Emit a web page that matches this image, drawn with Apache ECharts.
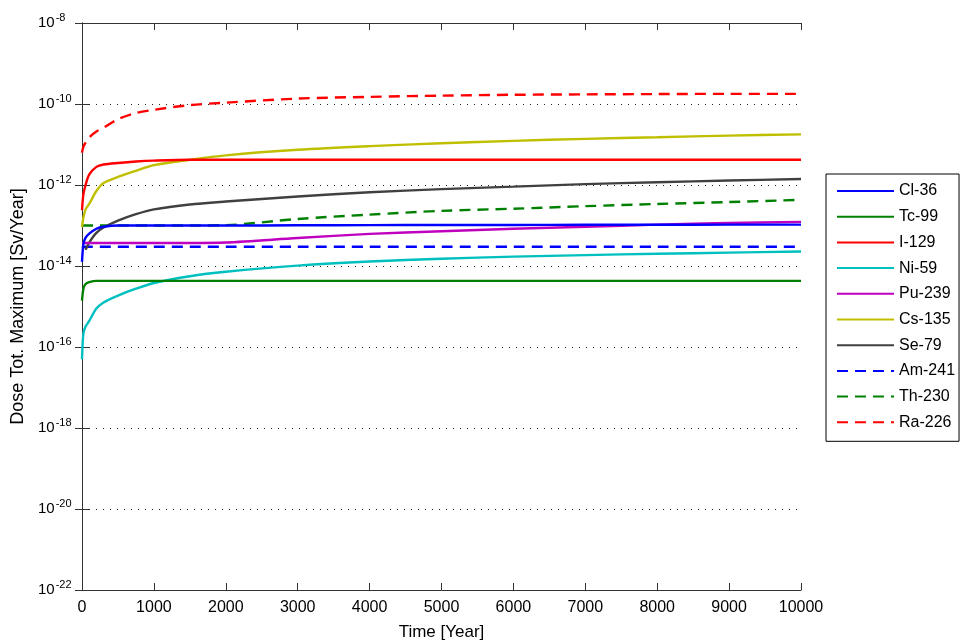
<!DOCTYPE html>
<html>
<head>
<meta charset="utf-8">
<script src="https://cdn.jsdelivr.net/npm/echarts@6/dist/echarts.min.js"></script>
<style>
  html, body { margin: 0; padding: 0; background: #fff; }
  #chart { width: 967px; height: 642px; }
</style>
</head>
<body>
<div id="chart"></div>
<script>
// 时间点 (年)
var years = [0, 20, 50, 100, 200, 300, 500, 750, 1000, 1500, 2000, 3000, 4000, 5000, 6000, 7000, 8000, 9000, 10000];

// 各核素剂量 [Sv/Year]
var cl36 = [1.26e-14, 3.5e-14, 5.0e-14, 6.3e-14, 8.3e-14, 9.3e-14, 1.0e-13, 1.0e-13, 1.0e-13, 1.0e-13, 1.0e-13, 1.01e-13, 1.02e-13, 1.03e-13, 1.03e-13, 1.04e-13, 1.04e-13, 1.05e-13, 1.05e-13];
var tc99 = [1.4e-15, 2.8e-15, 3.6e-15, 4.0e-15, 4.3e-15, 4.3e-15, 4.3e-15, 4.3e-15, 4.3e-15, 4.3e-15, 4.3e-15, 4.3e-15, 4.3e-15, 4.3e-15, 4.3e-15, 4.3e-15, 4.3e-15, 4.3e-15, 4.3e-15];
var i129 = [2.4e-13, 6.0e-13, 1.0e-12, 1.8e-12, 2.8e-12, 3.2e-12, 3.5e-12, 3.8e-12, 4.0e-12, 4.2e-12, 4.2e-12, 4.2e-12, 4.2e-12, 4.2e-12, 4.2e-12, 4.2e-12, 4.2e-12, 4.2e-12, 4.2e-12];
var ni59 = [5.0e-17, 2.2e-16, 3.2e-16, 4.4e-16, 8.9e-16, 1.26e-15, 1.86e-15, 2.75e-15, 3.8e-15, 5.6e-15, 7.2e-15, 1.02e-14, 1.29e-14, 1.51e-14, 1.70e-14, 1.86e-14, 2.0e-14, 2.14e-14, 2.29e-14];
var pu239 = [3.7e-14, 3.7e-14, 3.7e-14, 3.7e-14, 3.7e-14, 3.7e-14, 3.7e-14, 3.7e-14, 3.7e-14, 3.7e-14, 3.8e-14, 4.9e-14, 6.2e-14, 7.2e-14, 8.3e-14, 9.3e-14, 1.05e-13, 1.15e-13, 1.23e-13];
var cs135 = [9.1e-14, 1.6e-13, 2.5e-13, 3.4e-13, 7.1e-13, 1.12e-12, 1.58e-12, 2.24e-12, 3.1e-12, 4.2e-12, 5.4e-12, 7.4e-12, 9.1e-12, 1.07e-11, 1.23e-11, 1.38e-11, 1.51e-11, 1.66e-11, 1.78e-11];
var se79 = [null, null, 2.5e-14, 3.8e-14, 6.6e-14, 8.9e-14, 1.32e-13, 1.9e-13, 2.5e-13, 3.3e-13, 3.9e-13, 5.2e-13, 6.6e-13, 7.9e-13, 9.1e-13, 1.05e-12, 1.17e-12, 1.29e-12, 1.41e-12];
var am241 = [2.8e-14, 2.9e-14, 3.0e-14, 3.0e-14, 3.0e-14, 3.0e-14, 3.0e-14, 3.0e-14, 3.0e-14, 3.0e-14, 3.0e-14, 3.0e-14, 3.0e-14, 3.0e-14, 3.0e-14, 3.0e-14, 3.0e-14, 3.0e-14, 3.0e-14];
var th230 = [1.0e-13, 1.0e-13, 1.0e-13, 1.0e-13, 1.0e-13, 1.0e-13, 1.0e-13, 1.0e-13, 1.0e-13, 1.0e-13, 1.02e-13, 1.45e-13, 1.86e-13, 2.3e-13, 2.6e-13, 3.0e-13, 3.4e-13, 3.8e-13, 4.3e-13];
var ra226 = [6.3e-12, 8.9e-12, 1.12e-11, 1.5e-11, 2.1e-11, 2.6e-11, 4.2e-11, 6.0e-11, 7.2e-11, 9.4e-11, 1.08e-10, 1.36e-10, 1.50e-10, 1.61e-10, 1.69e-10, 1.73e-10, 1.76e-10, 1.78e-10, 1.78e-10];

var names = ['Cl-36', 'Tc-99', 'I-129', 'Ni-59', 'Pu-239', 'Cs-135', 'Se-79', 'Am-241', 'Th-230', 'Ra-226'];
var values = [cl36, tc99, i129, ni59, pu239, cs135, se79, am241, th230, ra226];
var colors = ['#0000ff', '#008000', '#ff0000', '#00bfbf', '#bf00bf', '#bfbf00', '#404040', '#0000ff', '#008000', '#ff0000'];
var dashed = [false, false, false, false, false, false, false, true, true, true];

// y 轴刻度: 10 的指数
var yMinExp = -22, yMaxExp = -8, yStep = 2;

var fontFam = 'Liberation Sans, Arial, sans-serif';

// 对数坐标: 数据取 log10 后交给数值轴
function toPairs(arr) {
	var out = [];
	for (var i = 0; i < years.length; i++) {
		if (arr[i] != null) out.push([years[i], Math.log(arr[i]) / Math.LN10]);
	}
	return out;
}

var series = names.map(function(n, i) {
	return {
		name: n,
		type: 'line',
		symbol: 'none',
		showSymbol: false,
		smooth: 0.3,
		xAxisIndex: 0,
		yAxisIndex: 0,
		data: toPairs(values[i]),
		lineStyle: {
			color: colors[i],
			width: 2.4,
			type: dashed[i] ? [11, 7] : 'solid'
		},
		itemStyle: { color: colors[i] },
		z: 10 - i
	};
});

var tickStyle = { inside: true, length: 7, lineStyle: { color: '#333' } };
var axisLineStyle = { show: true, lineStyle: { color: '#333' } };

var chart = echarts.init(document.getElementById('chart'));

chart.setOption({
	animation: false,
	backgroundColor: '#fff',
	textStyle: { fontFamily: fontFam },
	grid: {
		left: 82, right: 166, top: 23, bottom: 52,
		outerBoundsMode: 'none',
		containLabel: false
	},
	legend: {
		orient: 'vertical',
		left: 826,
		top: 174,
		data: names,
		itemWidth: 57,
		itemHeight: 14,
		itemGap: 9.7,
		padding: [9, 4, 11, 10],
		borderColor: '#000',
		borderWidth: 1,
		backgroundColor: '#fff',
		itemStyle: { opacity: 0 },
		textStyle: { fontSize: 16, color: '#000', fontFamily: fontFam }
	},
	xAxis: [
		{
			type: 'value',
			min: 0,
			max: 10000,
			interval: 1000,
			name: 'Time [Year]',
			nameLocation: 'middle',
			nameGap: 34,
			nameTextStyle: { fontSize: 17, color: '#000' },
			axisLine: axisLineStyle,
			axisTick: tickStyle,
			axisLabel: {
				fontSize: 16, color: '#000', margin: 10,
				formatter: function(v) { return String(v); }
			},
			splitLine: { show: false }
		},
		{
			type: 'value',
			position: 'top',
			min: 0,
			max: 10000,
			interval: 1000,
			axisLine: axisLineStyle,
			axisTick: tickStyle,
			axisLabel: { show: false },
			splitLine: { show: false }
		}
	],
	yAxis: [
		{
			type: 'value',
			min: yMinExp,
			max: yMaxExp,
			interval: yStep,
			name: 'Dose Tot. Maximum [Sv/Year]',
			nameLocation: 'middle',
			nameGap: 55,
			nameRotate: 90,
			nameTextStyle: { fontSize: 18, color: '#000' },
			axisLine: axisLineStyle,
			axisTick: tickStyle,
			axisLabel: {
				margin: 44,
				align: 'left',
				formatter: function(v) {
					return '{b|10}{e|' + v + '}';
				},
				rich: {
					b: { fontSize: 15, color: '#000' },
					e: { fontSize: 11, color: '#000', padding: [0, 0, 10, 1] }
				}
			},
			splitLine: {
				show: true,
				lineStyle: { color: '#222', width: 1, type: [1, 6] }
			}
		},
		{
			type: 'value',
			position: 'right',
			min: yMinExp,
			max: yMaxExp,
			interval: yStep,
			axisLine: axisLineStyle,
			axisTick: tickStyle,
			axisLabel: { show: false },
			splitLine: { show: false }
		}
	],
	series: series
});
</script>
</body>
</html>
